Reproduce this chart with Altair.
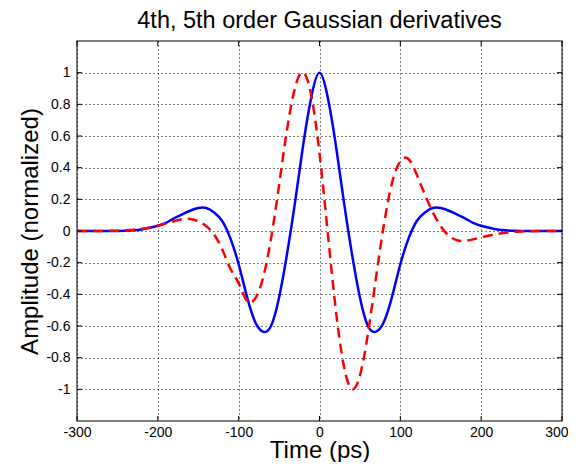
import altair as alt
import pandas as pd

# time samples (ps)
t_vals = list(range(-300, 301, 10))

# 4th order Gaussian derivative (blue, solid)
blue_4th = [
    0, 0, 0, 0, 0, 0,                                  # -300 .. -250
    0.001, 0.004, 0.01, 0.02, 0.033, 0.052, 0.08,      # -240 .. -180
    0.105, 0.128, 0.145, 0.145, 0.115, 0.06, -0.05,    # -170 .. -110
    -0.21, -0.41, -0.57, -0.636, -0.60, -0.42, -0.14,  # -100 .. -40
    0.19, 0.55, 0.85,                                  # -30 .. -10
    1.0,                                               # 0
    0.85, 0.55, 0.19,                                  # 10 .. 30
    -0.14, -0.42, -0.60, -0.636, -0.57, -0.41, -0.21,  # 40 .. 100
    -0.05, 0.06, 0.115, 0.145, 0.145, 0.128, 0.105,    # 110 .. 170
    0.08, 0.052, 0.033, 0.02, 0.01, 0.004, 0.001,      # 180 .. 240
    0, 0, 0, 0, 0, 0,                                  # 250 .. 300
]

# 5th order Gaussian derivative (red, dashed)
red_5th = [
    0, 0, 0, 0, 0.001, 0.002,                          # -300 .. -250
    0.004, 0.008, 0.014, 0.022, 0.033, 0.047, 0.062,   # -240 .. -180
    0.075, 0.076, 0.062, 0.03, -0.025, -0.12, -0.24,   # -170 .. -110
    -0.33, -0.44, -0.43, -0.30, -0.05, 0.29, 0.645,    # -100 .. -40
    0.91, 1.0, 0.85,                                   # -30 .. -10
    0.49,                                              # 0
    0.0, -0.49, -0.85,                                 # 10 .. 30
    -0.998, -0.913, -0.645, -0.29, 0.05, 0.31, 0.44,   # 40 .. 100
    0.455, 0.36, 0.235, 0.12, 0.03, -0.03, -0.058,     # 110 .. 170
    -0.062, -0.053, -0.04, -0.028, -0.018, -0.011, -0.006,  # 180 .. 240
    -0.003, -0.001, 0, 0, 0, 0,                        # 250 .. 300
]

x_ticks = [-300, -200, -100, 0, 100, 200, 300]
y_ticks = [-1, -0.8, -0.6, -0.4, -0.2, 0, 0.2, 0.4, 0.6, 0.8, 1]

W, H = 485, 380
FONT = "Liberation Sans"

df_blue = pd.DataFrame({"t": t_vals, "v": blue_4th})
df_red = pd.DataFrame({"t": t_vals, "v": red_5th})
df_xt = pd.DataFrame({"t": x_ticks})
df_yt = pd.DataFrame({"v": y_ticks})

xscale = alt.Scale(domain=[-300, 300], nice=False, zero=False)
yscale = alt.Scale(domain=[-1.2, 1.2], nice=False, zero=False)

x_axis = alt.Axis(
    values=x_ticks, grid=True, gridDash=[1, 3], gridColor="#000", gridWidth=1,
    ticks=False, domain=False, labelFont=FONT, labelFontSize=14, labelColor="#000",
    labelPadding=4, labelExpr="'' + datum.value", labelFlush=False,
    labelAlign={"condition": {"test": "datum.value == 300", "value": "right"}, "value": "center"},
    labelOffset={"condition": {"test": "datum.value == 300", "value": 6}, "value": 0},
    title="Time (ps)", titleFont=FONT, titleFontSize=24, titleFontWeight="normal",
    titleColor="#000", titleBaseline="alphabetic", titleY=36, titleX=W / 2,
    titleAlign="center",
)
y_axis = alt.Axis(
    values=y_ticks, grid=True, gridDash=[1, 3], gridColor="#000", gridWidth=1,
    ticks=False, domain=False, labelFont=FONT, labelFontSize=14, labelColor="#000",
    labelPadding=7, labelExpr="'' + datum.value", labelFlush=False,
    title="Amplitude (normalized)", titleFont=FONT, titleFontSize=24,
    titleFontWeight="normal", titleColor="#000", titleBaseline="alphabetic",
    titleAngle=-90, titleX=-40, titleY=H / 2, titleAlign="center",
)

blue = alt.Chart(df_blue).mark_line(
    color="#0000FF", strokeWidth=2.5, interpolate="natural"
).encode(
    x=alt.X("t:Q", scale=xscale, axis=x_axis),
    y=alt.Y("v:Q", scale=yscale, axis=y_axis),
)

red = alt.Chart(df_red).mark_line(
    color="#FF0000", strokeWidth=2.5, strokeDash=[10, 6], interpolate="natural"
).encode(
    x=alt.X("t:Q", scale=xscale, axis=x_axis),
    y=alt.Y("v:Q", scale=yscale, axis=y_axis),
)

TL = 5
left_ticks = alt.Chart(df_yt).mark_rule(color="#000", strokeWidth=1).encode(
    y=alt.Y("v:Q", scale=yscale, axis=y_axis), x=alt.value(0), x2=alt.value(TL)
)
right_ticks = alt.Chart(df_yt).mark_rule(color="#000", strokeWidth=1).encode(
    y=alt.Y("v:Q", scale=yscale, axis=y_axis), x=alt.value(W - TL), x2=alt.value(W)
)
bottom_ticks = alt.Chart(df_xt).mark_rule(color="#000", strokeWidth=1).encode(
    x=alt.X("t:Q", scale=xscale, axis=x_axis), y=alt.value(H - TL), y2=alt.value(H)
)
top_ticks = alt.Chart(df_xt).mark_rule(color="#000", strokeWidth=1).encode(
    x=alt.X("t:Q", scale=xscale, axis=x_axis), y=alt.value(0), y2=alt.value(TL)
)

chart = alt.layer(blue, red, left_ticks, right_ticks, bottom_ticks, top_ticks).properties(
    width=W,
    height=H,
    title=alt.TitleParams(
        text="4th, 5th order Gaussian derivatives", font=FONT, fontSize=23.5,
        fontWeight="normal", color="#000", anchor="middle", offset=8,
    ),
    autosize=alt.AutoSizeParams(type="none"),
    padding={"left": 69, "top": 33, "right": 6, "bottom": 41},
    background="white",
).configure_view(stroke="#555555", strokeWidth=1.5)

chart.save("out.html", embed_options={"renderer": "svg", "actions": False})
